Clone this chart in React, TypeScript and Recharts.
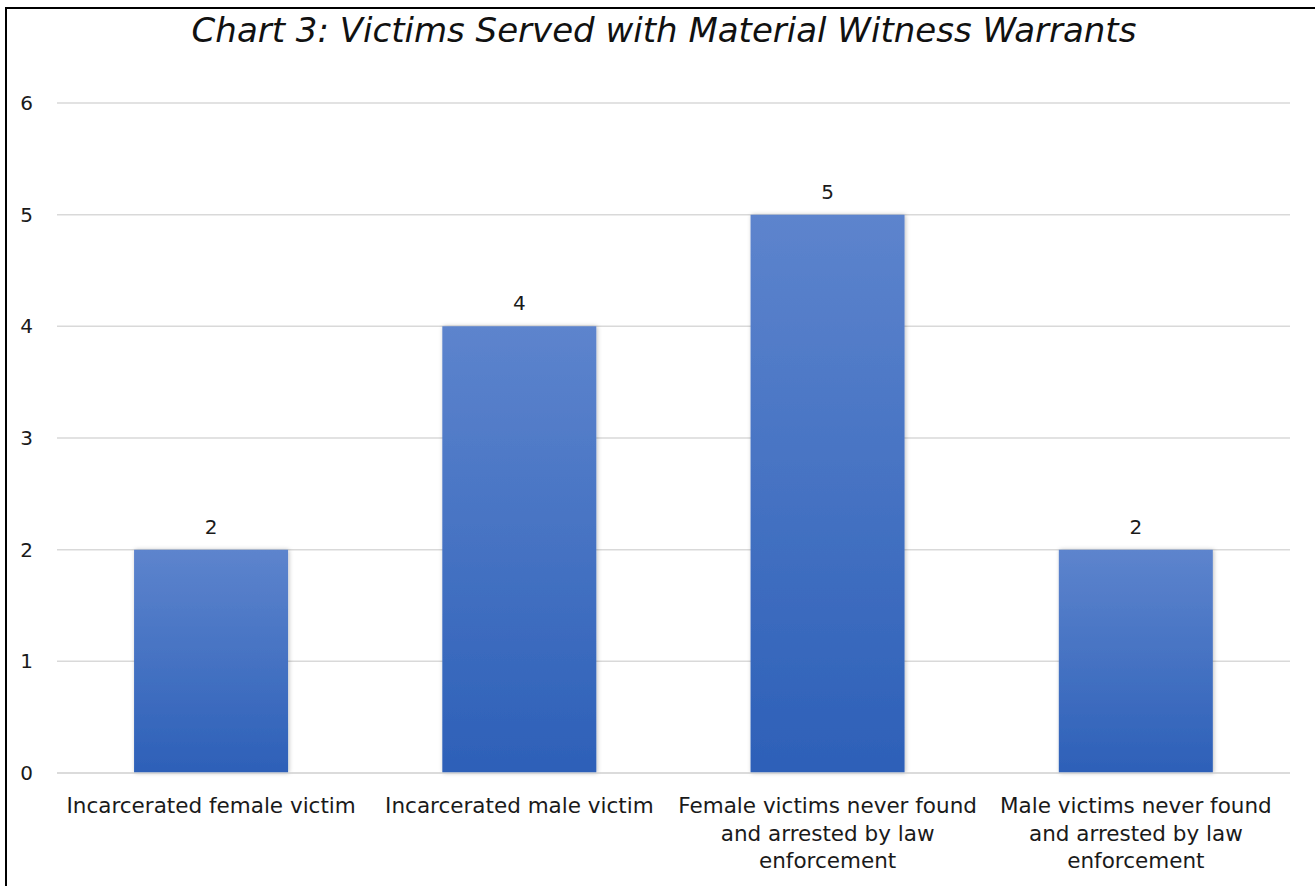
import React from 'react';
import { BarChart, Bar, XAxis, YAxis, CartesianGrid, LabelList } from 'recharts';

const categories = [
  'Incarcerated female victim',
  'Incarcerated male victim',
  'Female victims never found and arrested by law enforcement',
  'Male victims never found and arrested by law enforcement',
];
const victims = [2, 4, 5, 2];
const yTicks = [0, 1, 2, 3, 4, 5, 6];

const data = categories.map((name, i) => ({ name, victims: victims[i] }));

const FONT = '"DejaVu Sans", sans-serif';
const LABEL_SIZE = 21.5;
const WRAP_WIDTH = 305;

let ctx: CanvasRenderingContext2D | null = null;
function measure(s: string) {
  if (!ctx) ctx = document.createElement('canvas').getContext('2d');
  if (!ctx) return s.length * LABEL_SIZE * 0.6;
  ctx.font = `${LABEL_SIZE}px ${FONT}`;
  return ctx.measureText(s).width;
}

function wrap(text: string) {
  const words = text.split(' ');
  const lines: string[] = [];
  let cur = '';
  for (const w of words) {
    const next = cur ? cur + ' ' + w : w;
    if (cur && measure(next) > WRAP_WIDTH) {
      lines.push(cur);
      cur = w;
    } else {
      cur = next;
    }
  }
  if (cur) lines.push(cur);
  return lines;
}

function CategoryTick(props: any) {
  const { x, y, payload } = props;
  const lines = wrap(payload.value);
  return (
    <text x={x} y={y} textAnchor="middle" fontSize={LABEL_SIZE} fontFamily={FONT} fill="#1a1a1a">
      {lines.map((l, i) => (
        <tspan key={i} x={x} dy={i === 0 ? '0.9em' : 27.5}>
          {l}
        </tspan>
      ))}
    </text>
  );
}

export default function App() {
  return (
    <div style={{ position: 'absolute', left: 0, top: 0, width: 1315, height: 886, overflow: 'hidden', background: '#fff' }}>
      <div
        style={{
          position: 'absolute',
          left: 5,
          top: 7,
          width: 1340,
          height: 900,
          border: '2px solid #000',
        }}
      />
      <div
        style={{
          position: 'absolute',
          left: 0,
          top: 10,
          width: 1328,
          textAlign: 'center',
          fontFamily: FONT,
          fontStyle: 'italic',
          fontSize: 34,
          color: '#111',
        }}
      >
        Chart 3: Victims Served with Material Witness Warrants
      </div>
      <div style={{ position: 'absolute', left: 0, top: 0 }}>
        <BarChart
          width={1315}
          height={886}
          data={data}
          margin={{ top: 103, right: 25, bottom: 13, left: 17 }}
          barCategoryGap="25%"
        >
          <defs>
            <linearGradient id="barFill" x1="0" y1="0" x2="0" y2="1">
              <stop offset="0%" stopColor="#5D84CD" />
              <stop offset="100%" stopColor="#2D60B8" />
            </linearGradient>
            <filter id="barShadow" x="-10%" y="-10%" width="120%" height="120%">
              <feDropShadow dx="1" dy="0" stdDeviation="2" floodColor="#000" floodOpacity="0.25" />
            </filter>
          </defs>
          <CartesianGrid vertical={false} stroke="#D9D9D9" strokeWidth={1.5} />
          <XAxis
            dataKey="name"
            height={100}
            axisLine={{ stroke: '#D9D9D9', strokeWidth: 1.5 }}
            tickLine={false}
            interval={0}
            tick={<CategoryTick />}
            tickMargin={15}
          />
          <YAxis
            width={40}
            domain={[0, 6]}
            ticks={yTicks}
            axisLine={false}
            tickLine={false}
            tickMargin={18}
            tick={{ fontSize: 20, fontFamily: FONT, fill: '#1a1a1a' }}
          />
          <Bar dataKey="victims" fill="url(#barFill)" filter="url(#barShadow)" isAnimationActive={false}>
            <LabelList dataKey="victims" position="top" offset={16} fontSize={20} fontFamily={FONT} fill="#1a1a1a" />
          </Bar>
        </BarChart>
      </div>
    </div>
  );
}
